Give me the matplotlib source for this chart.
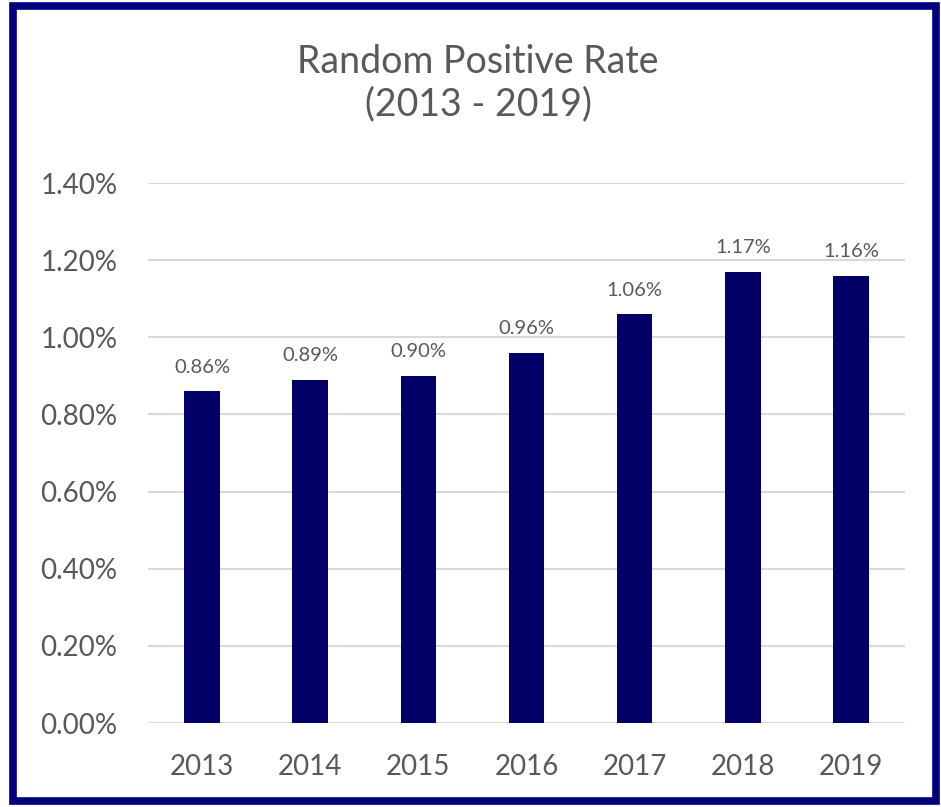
import matplotlib
matplotlib.use("Agg")
import matplotlib.pyplot as plt
from matplotlib.patches import Rectangle
from matplotlib.ticker import FuncFormatter

years = ["2013", "2014", "2015", "2016", "2017", "2018", "2019"]
rates = [0.86, 0.89, 0.90, 0.96, 1.06, 1.17, 1.16]
yticks = [0.0, 0.2, 0.4, 0.6, 0.8, 1.0, 1.2, 1.4]

plt.rcParams['font.family'] = ['Lato', 'DejaVu Sans']
gray = '#595959'

fig = plt.figure(figsize=(9.41, 8.07), dpi=100)
ax = fig.add_axes([148/941, 1-723/807, (905-148)/941, (723-183)/807])

x = list(range(len(years)))
ax.bar(x, rates, width=0.33, color='#000066', zorder=3)
for xi, v in zip(x, rates):
    ax.text(xi, v + 0.04, f"{v:.2f}%", ha='center', va='bottom', fontsize=14.5, color=gray)

ax.set_xlim(-0.5, len(years)-0.5)
ax.set_ylim(0, 1.4)
ax.set_yticks(yticks)
ax.yaxis.set_major_formatter(FuncFormatter(lambda v, p: f"{v:.2f}%"))
ax.set_xticks(x)
ax.set_xticklabels(years)
ax.tick_params(axis='both', length=0, labelsize=20, colors=gray)
ax.tick_params(axis='y', pad=22)
ax.tick_params(axis='x', pad=22)
ax.grid(axis='y', color='#d9d9d9', linewidth=1.5, zorder=0)
for s in ax.spines.values():
    s.set_visible(False)

fig.text(478/941, 1-62/807, "Random Positive Rate", ha='center', va='center', fontsize=27, color=gray)
fig.text(478/941, 1-104/807, "(2013 - 2019)", ha='center', va='center', fontsize=27, color=gray)

fig.patches.append(Rectangle((12.5/941, 1-801/807), (936-12.5)/941, (801-6)/807,
                             transform=fig.transFigure, fill=False, edgecolor='#000080', linewidth=5.5))

fig.savefig("out.png", dpi=100)
